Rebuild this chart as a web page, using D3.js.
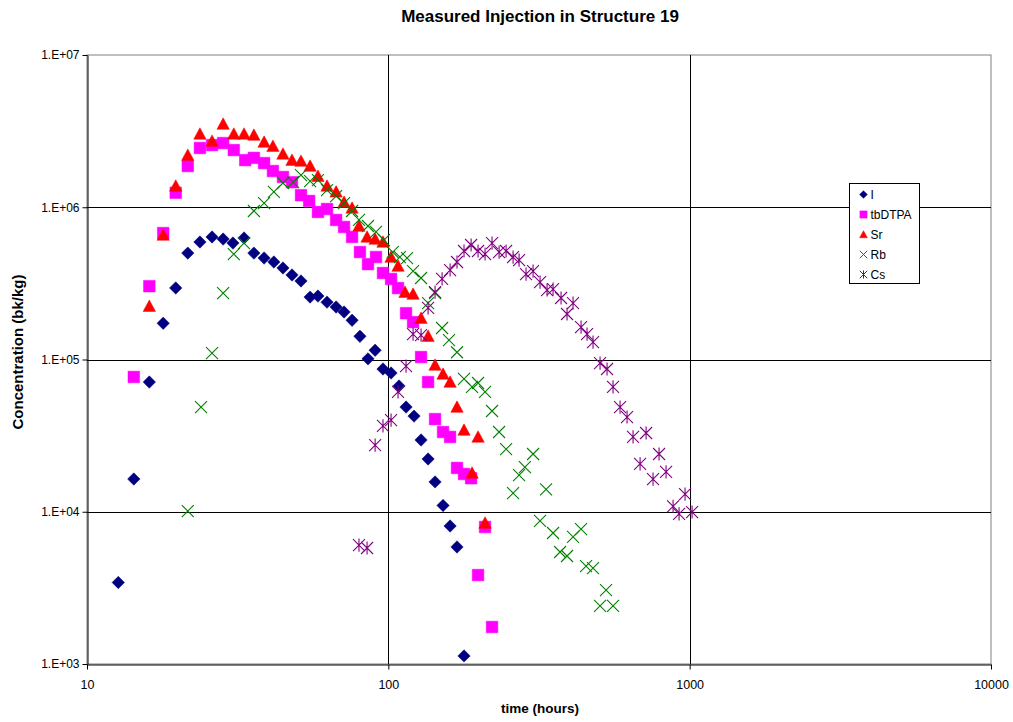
<!DOCTYPE html>
<html><head><meta charset="utf-8">
<script src="https://cdn.jsdelivr.net/npm/d3@7/dist/d3.min.js"></script>
<style>body{margin:0;background:#fff;font-family:"Liberation Sans",Arial,sans-serif;}</style>
</head><body>
<svg id="chart" width="1013" height="722"></svg>
<script>
const xTicks = [10, 100, 1000, 10000];
const yTicks = [1e3, 1e4, 1e5, 1e6, 1e7];
const yTickLabels = ["1.E+03", "1.E+04", "1.E+05", "1.E+06", "1.E+07"];
const seriesNames = ["I", "tbDTPA", "Sr", "Rb", "Cs"];

const iTime = [12.7,14.3,16.1,17.9,19.7,21.6,23.7,26.0,28.3,30.5,33.2,35.8,38.7,41.7,44.7,47.9,51.3,55.0,58.4,62.6,67.1,71.3,75.8,80.5,85.6,90.4,96.0,102.1,108.5,114.5,121.7,128.4,135.5,142.9,151.9,160.3,169.0,178.3];
const iConc = [3430,16400,71100,173000,295000,500000,591000,638000,618000,582000,628000,500000,464000,437000,399000,359000,328000,257000,261000,238000,221000,205000,181000,142000,101000,115000,86600,81500,67000,48700,42500,29600,22200,15700,11000,8060,5870,1130];

const tbTime = [14.3,16.1,17.9,19.7,21.6,23.7,26.0,28.3,30.7,33.5,35.8,38.7,41.4,44.7,47.9,51.3,54.6,58.4,62.6,67.1,71.3,75.8,80.5,85.6,91.0,96.0,102.1,107.7,114.5,120.8,128.4,135.5,142.9,151.9,160.3,169.0,178.3,188.2,198.5,209.4,220.9];
const tbConc = [76800,303000,677000,1245000,1865000,2450000,2560000,2640000,2375000,2040000,2110000,1950000,1730000,1580000,1460000,1200000,1100000,931000,974000,825000,742000,638000,508000,423000,471000,370000,338000,294500,201500,176000,103800,71100,40600,33400,31000,19400,17700,16600,3840,7940,1750];

const srTime = [16.1,17.9,19.7,21.6,23.7,26.0,28.3,30.7,33.2,35.8,38.7,41.4,44.7,47.9,51.3,55.0,58.4,62.6,67.1,71.3,75.8,79.9,85.0,90.4,96.0,102.1,107.7,113.6,120.8,128.4,135.5,142.9,151.9,160.3,169.0,178.3,189.6,198.5,209.4];
const srConc = [224000,657000,1380000,2200000,3030000,2720000,3520000,3030000,3030000,2980000,2680000,2520000,2240000,2040000,2010000,1865000,1600000,1380000,1263000,1080000,989000,753000,638000,618000,591000,471000,411000,277000,269000,187000,142400,92000,80300,71100,48700,34400,17970,31000,8430];

const rbTime = [21.6,23.9,26.0,28.3,30.7,33.2,35.8,38.7,41.7,44.7,48.3,51.3,55.0,58.4,62.6,67.1,71.3,75.8,79.9,85.6,91.0,96.7,103.4,109.2,115.4,120.8,128.4,135.5,142.9,150.8,159.0,169.0,178.3,189.6,198.5,209.4,220.9,233.1,245.9,259.4,271.6,283.9,302.2,318.8,333.8,352.1,371.5,391.8,410.2,436.1,453.0,477.9,504.2,527.8,556.8];
const rbConc = [10100,48700,110000,273000,493000,582000,945000,1065000,1263000,1443000,1460000,1625000,1485000,1507000,1295000,1182000,1065000,945000,825000,753000,688000,609000,508000,471000,464000,381000,343000,234500,273000,161000,134000,111600,74500,66000,70100,61200,45900,33400,25800,13250,17400,19650,23950,8700,14050,7250,5440,5120,6830,7700,4400,4270,2405,3060,2405];

const csTime = [79.9,85.0,90.4,96.0,102.1,107.7,114.5,120.8,128.4,135.5,142.9,150.8,160.3,169.0,178.3,188.2,198.5,209.4,220.9,233.1,245.9,259.4,271.6,286.4,302.2,318.8,336.3,352.1,374.3,391.8,410.2,436.1,456.5,477.9,504.2,531.9,556.8,587.5,619.7,648.8,684.6,716.8,755.9,791.4,835.0,881.0,922.3,965.4,1018.5];
const csConc = [6040,5780,27400,36600,40000,61200,90600,147000,144600,218000,277000,338000,387000,437000,516000,565000,516000,493000,582000,508000,516000,471000,450000,364000,381000,322000,286000,290000,253500,199000,234500,163100,147000,130000,94800,86600,66000,48700,41900,31000,20600,32900,16370,23950,18260,10860,9670,13050,9960];

const margin = {left: 87, right: 991, top: 55, bottom: 664};
const svg = d3.select("#chart");
const x = d3.scaleLog().domain([10, 10000]).range([margin.left, margin.right]);
const y = d3.scaleLog().domain([1e3, 1e7]).range([margin.bottom, margin.top]);

const mk = {
  diamond: s => `M0,${-s}L${s},0L0,${s}L${-s},0Z`,
  square: s => `M${-s},${-s}H${s}V${s}H${-s}Z`,
  triangle: s => `M0,${-s}L${s},${s*0.85}L${-s},${s*0.85}Z`,
  cross: s => `M${-s},${-s}L${s},${s}M${s},${-s}L${-s},${s}`,
  star: s => `M${-s},${-s}L${s},${s}M${s},${-s}L${-s},${s}M0,${-s*1.1}V${s*1.1}`
};
const series = [
  {name: seriesNames[0], t: iTime, c: iConc, shape: "diamond", size: 6.2, color: "#000080", fill: true},
  {name: seriesNames[1], t: tbTime, c: tbConc, shape: "square", size: 5.8, color: "#FF00FF", fill: true},
  {name: seriesNames[2], t: srTime, c: srConc, shape: "triangle", size: 6.2, color: "#FF0000", fill: true},
  {name: seriesNames[3], t: rbTime, c: rbConc, shape: "cross", size: 6, color: "#008000", fill: false},
  {name: seriesNames[4], t: csTime, c: csConc, shape: "star", size: 6, color: "#800080", fill: false}
];

svg.append("rect").attr("x", margin.left).attr("y", margin.top)
  .attr("width", margin.right - margin.left).attr("height", margin.bottom - margin.top)
  .attr("fill", "#fff").attr("stroke", "#808080").attr("stroke-width", 1);

const g = svg.append("g");
g.selectAll("line.hg").data(yTicks.slice(1, 4)).enter().append("line")
  .attr("x1", margin.left).attr("x2", margin.right)
  .attr("y1", d => Math.round(y(d)) + 0.5).attr("y2", d => Math.round(y(d)) + 0.5)
  .attr("stroke", "#000").attr("stroke-width", 1);
g.selectAll("line.vg").data(xTicks.slice(1, 3)).enter().append("line")
  .attr("y1", margin.top).attr("y2", margin.bottom)
  .attr("x1", d => Math.round(x(d)) + 0.5).attr("x2", d => Math.round(x(d)) + 0.5)
  .attr("stroke", "#000").attr("stroke-width", 1);

const yAxis = d3.axisLeft(y).tickValues(yTicks).tickFormat((d, i) => yTickLabels[i]).tickSize(5).tickSizeOuter(0).tickPadding(3);
const yg = svg.append("g").attr("transform", `translate(${margin.left + 0.5},0)`).call(yAxis);
const xAxis = d3.axisBottom(x).tickValues(xTicks).tickFormat(d3.format("d")).tickSize(5).tickSizeOuter(0).tickPadding(11);
const xg = svg.append("g").attr("transform", `translate(0,${margin.bottom + 0.5})`).call(xAxis);
yg.attr("font-size", 12).selectAll("text").attr("font-size", 12);
xg.attr("font-size", 12.5).selectAll("text").attr("font-size", 12.5);
[yg, xg].forEach(a => {
  a.attr("font-family", "Liberation Sans, Arial, sans-serif");
  a.selectAll("text").attr("fill", "#000");
  a.selectAll("line,path").attr("stroke", "#000");
});

series.forEach(s => {
  const pts = s.t.map((t, i) => [t, s.c[i]]);
  svg.append("g").selectAll("path").data(pts).enter().append("path")
    .attr("transform", d => `translate(${x(d[0])},${y(d[1])})`)
    .attr("d", mk[s.shape](s.size))
    .attr("fill", s.fill ? s.color : "none")
    .attr("stroke", s.color)
    .attr("stroke-width", s.fill ? 0.5 : 1.1);
});

svg.append("text").attr("x", 540).attr("y", 22).attr("text-anchor", "middle")
  .attr("font-weight", "bold").attr("font-size", 17).text("Measured Injection in Structure 19");
svg.append("text").attr("x", 540).attr("y", 713).attr("text-anchor", "middle")
  .attr("font-weight", "bold").attr("font-size", 13.5).text("time (hours)");
svg.append("text").attr("transform", "translate(23,352) rotate(-90)").attr("text-anchor", "middle")
  .attr("font-weight", "bold").attr("font-size", 15).text("Concentration (bk/kg)");

const lg = svg.append("g").attr("transform", "translate(849.5,183.5)");
lg.append("rect").attr("width", 70).attr("height", 100).attr("fill", "#fff").attr("stroke", "#000");
series.forEach((s, i) => {
  const yy = 11 + i * 20;
  lg.append("path").attr("transform", `translate(14,${yy})`).attr("d", mk[s.shape](s.size * 0.62))
    .attr("fill", s.fill ? s.color : "none").attr("stroke", s.color).attr("stroke-width", s.fill ? 0.5 : 1);
  lg.append("text").attr("x", 21).attr("y", yy + 4).attr("font-size", 12).text(s.name);
});
</script>
</body></html>
